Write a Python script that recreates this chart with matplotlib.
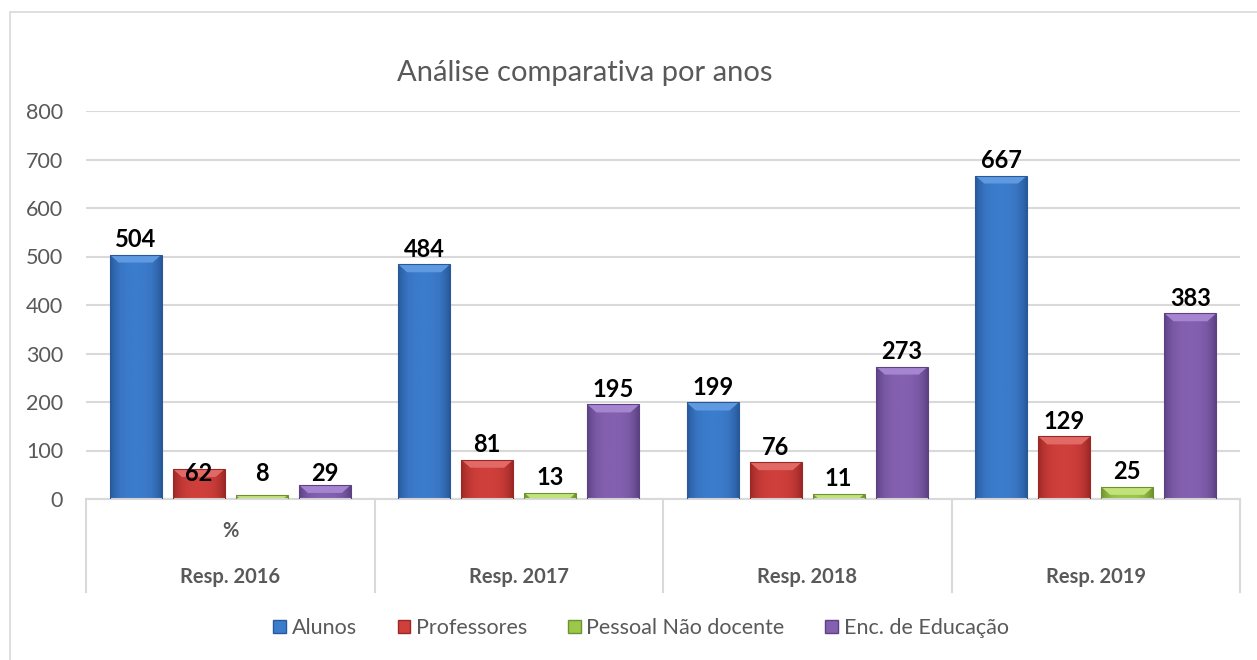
"""
Comparative bar chart of survey responses per year (Excel-style bevelled bars).
"""
import numpy as np
import matplotlib
matplotlib.use("Agg")
import matplotlib.pyplot as plt
from matplotlib.patches import Patch, Polygon, Rectangle
from matplotlib.colors import LinearSegmentedColormap
from matplotlib.transforms import blended_transform_factory

plt.rcParams["font.family"] = ["Lato", "DejaVu Sans"]

# --- Data ---
groups = ["Resp. 2016", "Resp. 2017", "Resp. 2018", "Resp. 2019"]
top_labels = ["%", "", "", ""]
series = ["Alunos", "Professores", "Pessoal Não docente", "Enc. de Educação"]
alunos = [504, 484, 199, 667]
professores = [62, 81, 76, 129]
pessoal = [8, 13, 11, 25]
encarregados = [29, 195, 273, 383]
yticks = [0, 100, 200, 300, 400, 500, 600, 700, 800]

values = [alunos, professores, pessoal, encarregados]

# --- Style ---
# (base, edge/dark, top bevel)
palette = [
    ("#3c7ccc", "#28599a", "#5f9ae0"),
    ("#cf3f3b", "#9c2826", "#e26a66"),
    ("#9bc84a", "#6f9230", "#c2e27a"),
    ("#8460b0", "#5c4284", "#a585d0"),
]
grey = "#595959"
grid = "#d9d9d9"
W, H = 1257, 660

fig = plt.figure(figsize=(W / 100, H / 100), dpi=100)
ax = fig.add_axes([86 / W, 1 - 499 / H, 1154 / W, 388 / H])

# outer chart border (cut by the image on the right and bottom)
fig.patches.append(Rectangle((10 / W, -0.1), 1.2, 1 - 12 / H + 0.1,
                             transform=fig.transFigure, fill=False,
                             edgecolor=grid, linewidth=1.2))

x = np.arange(len(groups)) + 0.5
offsets = [-0.328, -0.109, 0.109, 0.328]
bar_w = 0.18

ax.set_xlim(0, len(groups))
ax.set_ylim(0, 800)
px_x = len(groups) / 1154.0
px_y = 800 / 388.0

for s, (vals, (base, dark, light)) in enumerate(zip(values, palette)):
    bars = ax.bar(x + offsets[s], vals, bar_w, color="none",
                  edgecolor=dark, linewidth=0.8, zorder=3)
    for b in bars:
        x0, y0, w, h = b.get_x(), b.get_y(), b.get_width(), b.get_height()
        t = 1 - np.abs(np.linspace(-1, 1, 80)) ** 3
        cmap = LinearSegmentedColormap.from_list("g", [dark, base])
        img = ax.imshow(t[None, :], cmap=cmap, vmin=0, vmax=1,
                        extent=[x0, x0 + w, y0, y0 + h], aspect="auto",
                        zorder=2, interpolation="bilinear")
        img.set_clip_path(b)
        bw, bh = 9 * px_x, 8 * px_y
        top = y0 + h
        bev = Polygon([(x0, top), (x0 + w, top), (x0 + w - bw, top - bh),
                       (x0 + bw, top - bh)], closed=True, facecolor=light,
                      edgecolor="none", zorder=2.5)
        ax.add_patch(bev)
        bev.set_clip_path(b)

    for g, v in enumerate(vals):
        if g == 0 and s > 0:
            # first group small labels were placed on one line in the original
            ax.annotate(str(v), (x[g] + offsets[s], 52), ha="center",
                        va="center", fontsize=17, fontweight="bold",
                        color="black", zorder=5)
        else:
            ax.annotate(str(v), (x[g] + offsets[s], v), xytext=(0, 15),
                        textcoords="offset pixels", ha="center", va="center",
                        fontsize=17, fontweight="bold", color="black",
                        zorder=5)

ax.set_xlim(0, len(groups))
ax.set_ylim(0, 800)
ax.set_yticks(yticks)
ax.tick_params(axis="y", length=0, labelsize=15.5, labelcolor=grey, pad=16.5)
ax.set_xticks([])
ax.yaxis.grid(True, color=grid, linewidth=1.5, zorder=0)
ax.set_axisbelow(True)
for side in ["top", "right", "left"]:
    ax.spines[side].set_visible(False)
ax.spines["bottom"].set_color(grid)
ax.spines["bottom"].set_linewidth(1.5)

# two-level category axis
trans = blended_transform_factory(ax.transData, ax.transAxes)
for i in range(len(groups) + 1):
    ax.plot([i, i], [0, -93 / 388], color=grid, linewidth=1.5,
            transform=trans, clip_on=False)
for i, (top_lab, lab) in enumerate(zip(top_labels, groups)):
    ax.text(x[i], -32 / 388, top_lab, transform=trans, ha="center",
            va="center", fontsize=14.5, fontweight="bold", color=grey)
    ax.text(x[i], -78 / 388, lab, transform=trans, ha="center",
            va="center", fontsize=14.5, fontweight="bold", color=grey)

fig.text(585 / W, 1 - 73 / H, "Análise comparativa por anos", ha="center",
         va="center", fontsize=21, color=grey)

handles = [Patch(facecolor=p[0], edgecolor=p[1]) for p in palette]
fig.legend(handles, series, loc="center", bbox_to_anchor=(641 / W, 1 - 628 / H),
           ncol=4, frameon=False, fontsize=15.5, labelcolor=grey,
           handlelength=0.6, handleheight=0.6, handletextpad=0.25,
           columnspacing=1.9)

fig.savefig("out.png", dpi=100, facecolor="white")
